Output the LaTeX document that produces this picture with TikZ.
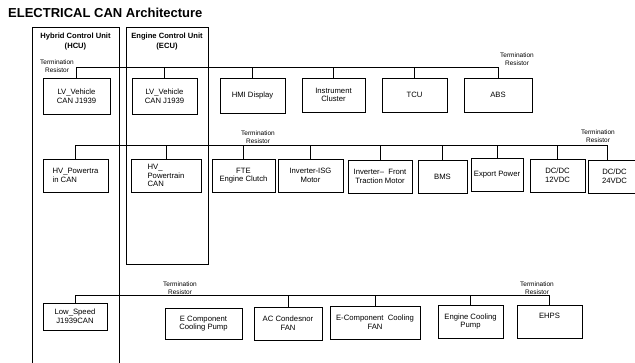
\documentclass[tikz,border=0pt]{standalone}
\usepackage{fontspec}
\setmainfont{Liberation Sans}
\usepackage{tikz}
\tikzset{
  unit/.style={draw, line width=0.9pt, align=center, inner sep=1pt, font=\fontsize{7.7}{8.6}\selectfont},
  frame/.style={draw, line width=0.9pt},
  frametitle/.style={align=center, inner sep=0pt, font=\bfseries\fontsize{7.6}{9.5}\selectfont},
  term/.style={align=center, inner sep=0pt, font=\fontsize{6.5}{7.8}\selectfont},
  bus/.style={line width=0.9pt}
}

\begin{document}
\begin{tikzpicture}[x=1pt, y=-1pt]
  \useasboundingbox (0,0) rectangle (635,362);

  \node[anchor=west, inner sep=0pt, font=\bfseries\fontsize{13}{15}\selectfont] (title) at (8,12.5) {ELECTRICAL CAN Architecture};

  % control unit frames
  \draw[frame] (32,365) |- (119,27) -- (119,365);
  \draw[frame] (126,27) rectangle (208,264);
  \node[frametitle] (hcuTitle) at (75.5,41.5) {Hybrid Control Unit\\(HCU)};
  \node[frametitle] (ecuTitle) at (167,41.5) {Engine Control Unit\\(ECU)};

  % vehicle CAN
  \node[unit, minimum width=67pt, minimum height=36pt] (hcuLv) at (76.5,96) {LV\_Vehicle\\CAN J1939};
  \node[unit, minimum width=65pt, minimum height=36pt] (ecuLv) at (164.5,96) {LV\_Vehicle\\CAN J1939};
  \node[unit, minimum width=65pt, minimum height=35pt] (hmi) at (252.5,95.5) {HMI Display};
  \node[unit, minimum width=63pt, minimum height=34pt] (cluster) at (333.5,95) {Instrument\\Cluster};
  \node[unit, minimum width=65pt, minimum height=34pt] (tcu) at (414.5,95) {TCU};
  \node[unit, minimum width=68pt, minimum height=34pt] (abs) at (498,95) {ABS};

  \coordinate (bus1) at (0,67);
  \draw[bus] (hcuLv.north) -- (hcuLv.north |- bus1) -- (abs.north |- bus1) -- (abs.north);
  \foreach \n in {ecuLv,hmi,cluster,tcu}
    \draw[bus] (\n.north) -- (\n.north |- bus1);
  \node[term] (termL1) at (57,66) {Termination\\Resistor};
  \node[term] (termR1) at (517,59) {Termination\\Resistor};

  % powertrain CAN
  \node[unit, align=left, minimum width=65pt, minimum height=33pt] (hcuHv) at (75.5,175.5) {HV\_Powertra\\in CAN};
  \node[unit, align=left, minimum width=70pt, minimum height=33pt] (ecuHv) at (166,175.5) {HV\_\\Powertrain\\CAN};
  \node[unit, minimum width=63pt, minimum height=33pt] (fte) at (243.5,175.5) {FTE\\Engine Clutch};
  \node[unit, minimum width=65pt, minimum height=33pt] (isg) at (310.5,175.5) {Inverter-ISG\\Motor};
  \node[unit, minimum width=64pt, minimum height=33pt] (front) at (380,176.5) {Inverter–\ \ Front\\Traction Motor};
  \node[unit, minimum width=49pt, minimum height=33pt] (bms) at (442.5,176.5) {BMS};
  \node[unit, minimum width=52pt, minimum height=33pt] (export) at (497,174.5) {Export Power};
  \node[unit, minimum width=55pt, minimum height=33pt] (dc12) at (557.5,175.5) {DC/DC\\12VDC};
  \node[unit, minimum width=53pt, minimum height=33pt] (dc24) at (614.5,176.5) {DC/DC\\24VDC};

  \coordinate (bus2) at (0,145);
  \draw[bus] (hcuHv.north) -- (hcuHv.north |- bus2) -- ([xshift=-7.5pt]dc24.north |- bus2) -- ([xshift=-7.5pt]dc24.north);
  \foreach \n in {ecuHv,fte,isg,front,bms,export,dc12}
    \draw[bus] (\n.north) -- (\n.north |- bus2);
  \node[term] (termM2) at (258,137) {Termination\\Resistor};
  \node[term] (termR2) at (598,136) {Termination\\Resistor};

  % low speed CAN
  \node[unit, minimum width=64pt, minimum height=27pt] (lowSpeed) at (75,316.5) {Low\_Speed\\J1939CAN};
  \node[unit, minimum width=77pt, minimum height=31pt] (ecomPump) at (203.5,323.5) {E Component\\Cooling Pump};
  \node[unit, minimum width=68pt, minimum height=33pt] (acFan) at (288,323.5) {AC Condesnor\\FAN};
  \node[unit, minimum width=90pt, minimum height=33pt] (ecomFan) at (375,322.5) {E-Component\ \ Cooling\\FAN};
  \node[unit, minimum width=65pt, minimum height=33pt] (engPump) at (470.5,321.5) {Engine Cooling\\Pump};
  \node[unit, minimum width=65pt, minimum height=33pt, text height=5.5pt, text depth=11pt] (ehps) at (549.5,321.5) {EHPS};

  \coordinate (bus3) at (0,295);
  \draw[bus] (lowSpeed.north) -- (lowSpeed.north |- bus3) -- (ehps.north |- bus3) -- (ehps.north);
  \foreach \n in {acFan,ecomFan,engPump}
    \draw[bus] (\n.north) -- (\n.north |- bus3);
  \node[term] (termM3) at (180,288.5) {Termination\\Resistor};
  \node[term] (termR3) at (537,288) {Termination\\Resistor};
\end{tikzpicture}
\end{document}
